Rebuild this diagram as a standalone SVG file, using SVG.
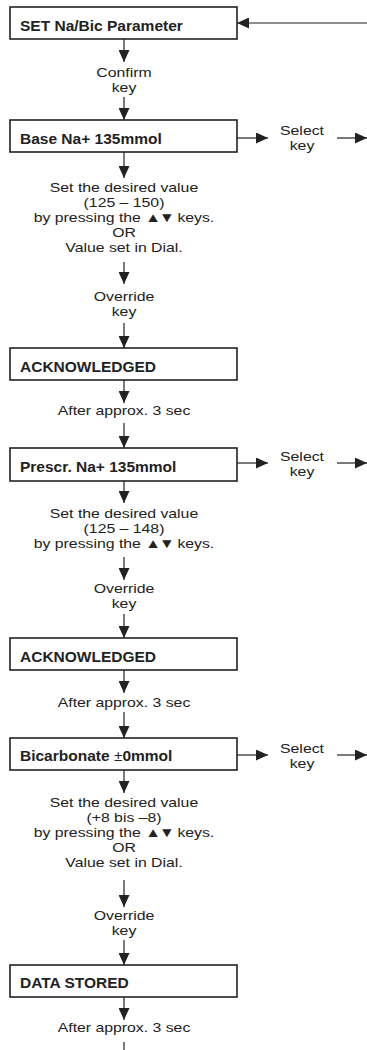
<svg xmlns="http://www.w3.org/2000/svg" width="367" height="1050" viewBox="0 0 367 1050">
<defs>
<style>
.box{fill:#fff;stroke:#222;stroke-width:1.6}
.bt{font-family:"Liberation Sans",Arial,sans-serif;font-weight:bold;font-size:15.5px;fill:#222}
.lt{font-family:"Liberation Sans",Arial,sans-serif;font-size:13.4px;fill:#222;text-anchor:middle}
.tri{letter-spacing:-1.5px}
.c line{stroke:#222;stroke-width:1.2;fill:none}
.c .a{marker-end:url(#ah)}
</style>
<marker id="ah" viewBox="0 0 12 11" refX="12" refY="5.5" markerWidth="12" markerHeight="11" markerUnits="userSpaceOnUse" orient="auto">
<path d="M0,0 L12,5.5 L0,11 z" fill="#222"/>
</marker>
</defs>
<rect width="367" height="1050" fill="#fff"/>
<g id="connectors" class="c">
<line class="a" x1="367" y1="23" x2="237" y2="23"/>
<line class="a" x1="124" y1="39" x2="124" y2="62"/>
<line class="a" x1="124" y1="97" x2="124" y2="120"/>
<line class="a" x1="237" y1="138" x2="268" y2="138"/>
<line class="a" x1="337" y1="138" x2="367" y2="138"/>
<line class="a" x1="124" y1="152" x2="124" y2="178"/>
<line class="a" x1="124" y1="262" x2="124" y2="284"/>
<line class="a" x1="124" y1="323" x2="124" y2="348"/>
<line class="a" x1="124" y1="380" x2="124" y2="403"/>
<line class="a" x1="124" y1="423" x2="124" y2="448"/>
<line class="a" x1="237" y1="463" x2="268" y2="463"/>
<line class="a" x1="337" y1="463" x2="367" y2="463"/>
<line class="a" x1="124" y1="481" x2="124" y2="503"/>
<line class="a" x1="124" y1="557" x2="124" y2="580"/>
<line class="a" x1="124" y1="614" x2="124" y2="638"/>
<line class="a" x1="124" y1="670" x2="124" y2="693"/>
<line class="a" x1="124" y1="712" x2="124" y2="738"/>
<line class="a" x1="237" y1="755" x2="268" y2="755"/>
<line class="a" x1="337" y1="755" x2="367" y2="755"/>
<line class="a" x1="124" y1="770" x2="124" y2="793"/>
<line class="a" x1="124" y1="880" x2="124" y2="907"/>
<line class="a" x1="124" y1="940" x2="124" y2="965"/>
<line class="a" x1="124" y1="997" x2="124" y2="1020"/>
<line x1="124" y1="1042" x2="124" y2="1050"/>
</g>
<g id="n-set"><rect class="box" x="10" y="7" width="227" height="32"/><text class="bt" x="20" y="30.5">SET Na/Bic Parameter</text></g>
<g id="l-confirm" transform="translate(124 0) scale(1.18 1)"><text class="lt" x="0" y="77">Confirm</text><text class="lt" x="0" y="92">key</text></g>
<g id="n-base"><rect class="box" x="10" y="120" width="227" height="32"/><text class="bt" x="20" y="143.5">Base Na+ 135mmol</text></g>
<g id="l-select1" transform="translate(302 0) scale(1.18 1)"><text class="lt" x="0" y="135">Select</text><text class="lt" x="0" y="150">key</text></g>
<g id="l-set1" transform="translate(124 0) scale(1.18 1)"><text class="lt" x="0" y="192">Set the desired value</text><text class="lt" x="0" y="207">(125 – 150)</text><text class="lt" x="0" y="222">by pressing the <tspan class="tri">▲▼</tspan> keys.</text><text class="lt" x="0" y="237">OR</text><text class="lt" x="0" y="252">Value set in Dial.</text></g>
<g id="l-override1" transform="translate(124 0) scale(1.18 1)"><text class="lt" x="0" y="301">Override</text><text class="lt" x="0" y="316">key</text></g>
<g id="n-ack1"><rect class="box" x="10" y="348" width="227" height="32"/><text class="bt" x="20" y="371.5">ACKNOWLEDGED</text></g>
<g id="l-after1" transform="translate(124 0) scale(1.18 1)"><text class="lt" x="0" y="415">After approx. 3 sec</text></g>
<g id="n-prescr"><rect class="box" x="10" y="448" width="227" height="33"/><text class="bt" x="20" y="471.5">Prescr. Na+ 135mmol</text></g>
<g id="l-select2" transform="translate(302 0) scale(1.18 1)"><text class="lt" x="0" y="461">Select</text><text class="lt" x="0" y="476">key</text></g>
<g id="l-set2" transform="translate(124 0) scale(1.18 1)"><text class="lt" x="0" y="518">Set the desired value</text><text class="lt" x="0" y="533">(125 – 148)</text><text class="lt" x="0" y="548">by pressing the <tspan class="tri">▲▼</tspan> keys.</text></g>
<g id="l-override2" transform="translate(124 0) scale(1.18 1)"><text class="lt" x="0" y="593">Override</text><text class="lt" x="0" y="608">key</text></g>
<g id="n-ack2"><rect class="box" x="10" y="638" width="227" height="32"/><text class="bt" x="20" y="661.5">ACKNOWLEDGED</text></g>
<g id="l-after2" transform="translate(124 0) scale(1.18 1)"><text class="lt" x="0" y="707">After approx. 3 sec</text></g>
<g id="n-bicarb"><rect class="box" x="10" y="738" width="227" height="32"/><text class="bt" x="20" y="761">Bicarbonate <tspan font-weight="normal">±</tspan>0mmol</text></g>
<g id="l-select3" transform="translate(302 0) scale(1.18 1)"><text class="lt" x="0" y="753">Select</text><text class="lt" x="0" y="768">key</text></g>
<g id="l-set3" transform="translate(124 0) scale(1.18 1)"><text class="lt" x="0" y="807">Set the desired value</text><text class="lt" x="0" y="822">(+8 bis –8)</text><text class="lt" x="0" y="837">by pressing the <tspan class="tri">▲▼</tspan> keys.</text><text class="lt" x="0" y="852">OR</text><text class="lt" x="0" y="867">Value set in Dial.</text></g>
<g id="l-override3" transform="translate(124 0) scale(1.18 1)"><text class="lt" x="0" y="920">Override</text><text class="lt" x="0" y="935">key</text></g>
<g id="n-data"><rect class="box" x="10" y="965" width="227" height="32"/><text class="bt" x="20" y="988">DATA STORED</text></g>
<g id="l-after3" transform="translate(124 0) scale(1.18 1)"><text class="lt" x="0" y="1032">After approx. 3 sec</text></g>
</svg>
